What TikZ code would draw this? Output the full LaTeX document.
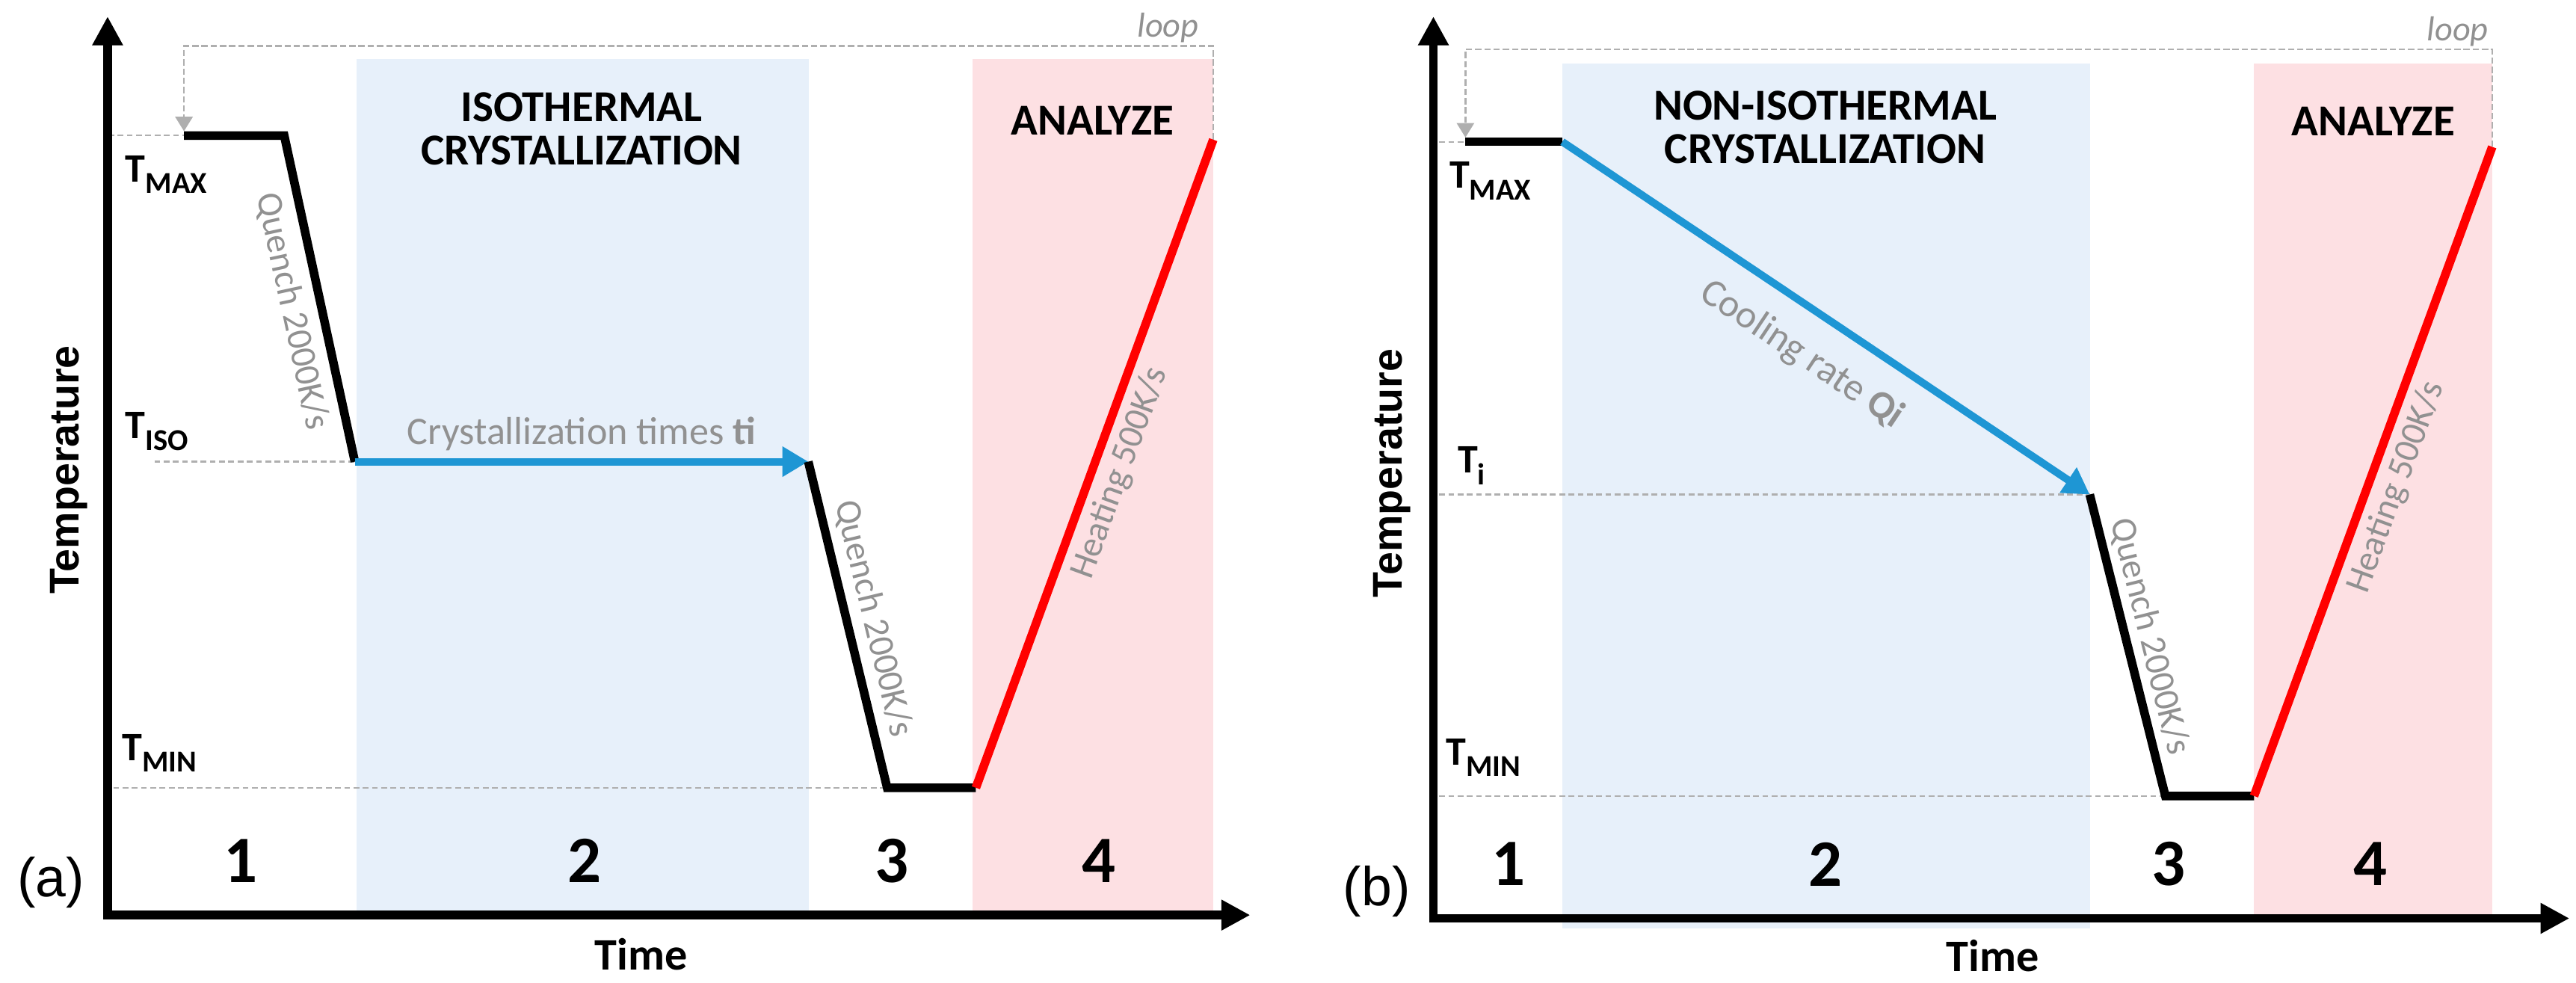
\documentclass[tikz,border=0pt]{standalone}
\usepackage{fontspec}
\setmainfont{Carlito}
\newfontfamily\arialfont{Liberation Sans}
\usetikzlibrary{arrows.meta}

\definecolor{bandblue}{RGB}{231,240,250}
\definecolor{bandpink}{RGB}{253,224,227}
\definecolor{rateblue}{RGB}{30,150,212}
\definecolor{notegray}{RGB}{145,145,145}
\definecolor{guidegray}{RGB}{175,175,175}

% temperature label with a lowered subscript
\newcommand{\tlevel}[1]{T\raisebox{-4pt}{\fontsize{10.5}{10.5}\selectfont #1}}

\begin{document}
\begin{tikzpicture}[x=0.02cm, y=-0.02cm,
    axes/.style={line width=3pt, line join=miter,
      {Triangle[length=10pt,width=10pt]}-{Triangle[length=10pt,width=10pt]}},
    profile/.style={line width=3pt},
    heat/.style={line width=3pt, red},
    ratearrow/.style={line width=2.6pt, rateblue, -{Triangle[length=9pt,width=10pt]}},
    guide/.style={guidegray, line width=0.6pt, dash pattern=on 2pt off 1.2pt},
    loopline/.style={guidegray, line width=0.7pt, dash pattern=on 2.2pt off 1pt,
      -{Triangle[length=5pt,width=6pt]}, shorten >=1.5pt},
    title/.style={font=\bfseries\fontsize{15.3}{15.1}\selectfont, align=center, inner sep=0pt},
    stage/.style={font=\bfseries\fontsize{23}{23}\selectfont, inner sep=0pt},
    note/.style={notegray, font=\fontsize{13.5}{14}\selectfont},
    rate/.style={notegray, font=\fontsize{12.5}{13}\selectfont, sloped},
    looplabel/.style={notegray, font=\itshape\fontsize{12}{12}\selectfont},
    tlab/.style={font=\bfseries\fontsize{14}{14}\selectfont, anchor=base west, inner sep=0pt},
    timelab/.style={font=\bfseries\fontsize{15.6}{16}\selectfont},
    templab/.style={font=\arialfont\bfseries\fontsize{14.4}{15}\selectfont, rotate=90},
    panel/.style={font=\arialfont\fontsize{19}{20}\selectfont}
  ]
  \useasboundingbox (0,0) rectangle (1568,598);

  % ---------- (a) isothermal ----------
  \fill[bandblue] (217,36) rectangle (492.5,557);
  \fill[bandpink] (592,36) rectangle (738.5,557);

  \coordinate (a0) at (112,82.5);
  \coordinate (a1) at (173,82.5);
  \coordinate (a2) at (216,281);
  \coordinate (a3) at (492,281);
  \coordinate (a4) at (540,479.5);
  \coordinate (a5) at (594,479.5);
  \coordinate (a6) at (738.5,85);
  \coordinate (aL) at (112,28);

  % dashed levels
  \draw[guide] (66,82.5) -- (a0);
  \draw[guide] (94,281) -- (a2);
  \draw[guide] (69,479.5) -- (a4);
  \draw[loopline] (a6) |- (aL) -- (a0);
  \node[looplabel] (loopa) at (711,17) {loop};

  % temperature program
  \draw[profile] (a0) -- (a1) -- node[rate, below, pos=0.52, inner sep=3.5pt] (qa1) {Quench 2000K/s} (a2);
  \draw[ratearrow] (a2) -- node[note, above, inner sep=2.5pt] (cta) {Crystallization times \textbf{ti}} (a3);
  \draw[profile] (a3) -- node[rate, above, pos=0.5, inner sep=2.5pt] (qa2) {Quench 2000K/s} (a4) -- (a5);
  \draw[heat] (a5) -- node[rate, below, pos=0.5, inner sep=2.5pt] (ha) {Heating 500K/s} (a6);

  \node[tlab] (tmaxa) at (76,110.7) {\tlevel{MAX}};
  \node[tlab] (tisoa) at (76,267) {\tlevel{ISO}};
  \node[tlab] (tmina) at (74,463) {\tlevel{MIN}};

  \node[title] (isoa) at (354,78.5) {ISOTHERMAL\\CRYSTALLIZATION};
  \node[title] (ana) at (665,73.5) {ANALYZE};

  \foreach \x/\n in {146.6/1, 355.6/2, 543/3, 669/4}
    \node[stage] (sa\n) at (\x,524) {\n};

  \draw[axes] (65.5,10) |- (761,557);
  \node[templab] (tempa) at (41.8,286) {Temperature};
  \node[timelab] (timea) at (390.3,581) {Time};
  \node[panel] (pa) at (31,537) {(a)};

  % ---------- (b) non-isothermal ----------
  \fill[bandblue] (951,38.6) rectangle (1272,565);
  \fill[bandpink] (1372,38.6) rectangle (1517,559);

  \coordinate (b0) at (892,86.3);
  \coordinate (b1) at (951,86.3);
  \coordinate (b2) at (1272,301);
  \coordinate (b4) at (1318,484.5);
  \coordinate (b5) at (1372,484.5);
  \coordinate (b6) at (1517,89.4);
  \coordinate (bL) at (892,30);

  % dashed levels
  \draw[guide] (876,86.3) -- (b0);
  \draw[guide] (876,301) -- (b2);
  \draw[guide] (876,484.5) -- (b4);
  \draw[loopline] (b6) |- (bL) -- (b0);
  \node[looplabel] (loopb) at (1496,19) {loop};

  % temperature program
  \draw[profile] (b0) -- (b1);
  \draw[ratearrow] (b1) -- node[note, sloped, below, pos=0.5, inner sep=8pt] (crb) {Cooling rate \textbf{Qi}} (b2);
  \draw[profile] (b2) -- node[rate, above, pos=0.49, inner sep=1.5pt] (qb) {Quench 2000K/s} (b4) -- (b5);
  \draw[heat] (b5) -- node[rate, below, pos=0.49, inner sep=2.5pt] (hb) {Heating 500K/s} (b6);

  \node[tlab] (tmaxb) at (882,114.5) {\tlevel{MAX}};
  \node[tlab] (tib) at (887,288) {\tlevel{i}};
  \node[tlab] (tminb) at (880,465.6) {\tlevel{MIN}};

  \node[title] (isob) at (1111,77.5) {NON-ISOTHERMAL\\CRYSTALLIZATION};
  \node[title] (anb) at (1444.6,74) {ANALYZE};

  \foreach \x/\n in {918/1, 1111/2, 1320/3, 1443/4}
    \node[stage] (sb\n) at (\x,526) {\n};

  \draw[axes] (872.5,10) |- (1564,559);
  \node[templab] (tempb) at (847.5,288) {Temperature};
  \node[timelab] (timeb) at (1213,582) {Time};
  \node[panel] (pb) at (838,542.6) {(b)};
\end{tikzpicture}
\end{document}
